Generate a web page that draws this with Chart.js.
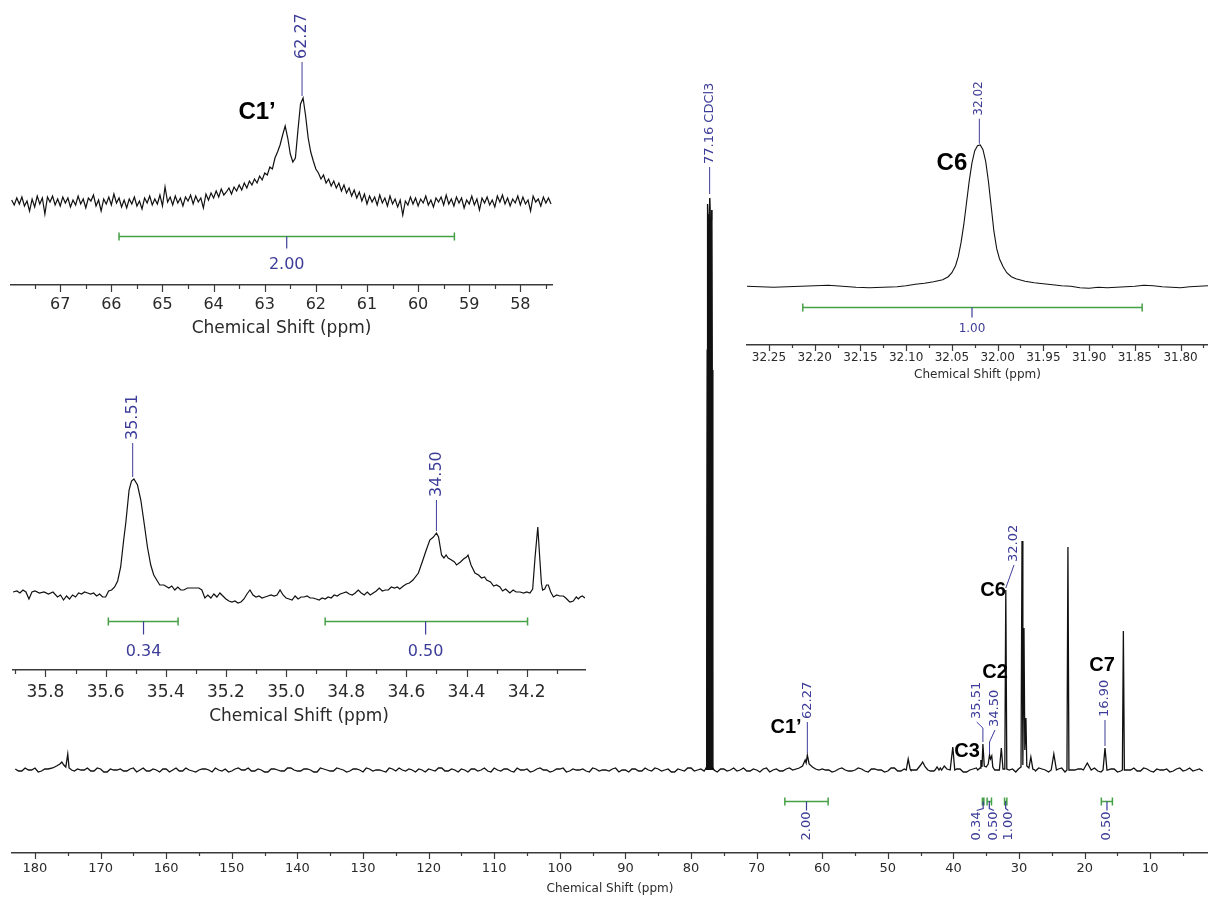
<!DOCTYPE html>
<html>
<head>
<meta charset="utf-8">
<script src="https://cdn.jsdelivr.net/npm/chart.js@4.4.1/dist/chart.umd.min.js"></script>
<style>
  html, body { margin: 0; padding: 0; background: #fff; }
  #wrap { position: relative; width: 1208px; height: 899px; overflow: hidden; }
  .box { position: absolute; }
</style>
</head>
<body>
<div id="wrap">
  <div class="box" style="left:0;top:0;width:1208px;height:899px"><canvas id="main"></canvas></div>
  <div class="box" style="left:0;top:0;width:560px;height:340px"><canvas id="zoomC1"></canvas></div>
  <div class="box" style="left:740px;top:60px;width:468px;height:330px"><canvas id="zoomC6"></canvas></div>
  <div class="box" style="left:0;top:380px;width:600px;height:350px"><canvas id="zoomC23"></canvas></div>
</div>
<script>
// ---------- data: full 13C spectrum (intensity in arbitrary units) ----------
// baseline noise, one value per ppm from 183 down to 2
const mainNoiseStart = 183;
const mainNoise = [
  1, -1, 0, 2, -1, 1, -2, 0, 1, -1,
  0, 2, -1, 1, -2, 0, 1, -1, 2, 0,
  -1, 1, -2, 1, 0, -1, 2, -1, 0, 1,
  -2, 0, 1, -1, 2, 0, -1, 1, -2, 1,
  0, -1, 2, -1, 1, 0, -2, 1, -1, 2,
  0, -1, 1, -2, 1, 0, -1, 2, -1, 0,
  1, -2, 0, 1, -1, 2, -1, 0, 1, -2,
  1, 0, -1, 2, -1, 1, -2, 0, 1, -1,
  2, 0, -1, 1, -2, 1, 0, -1, 2, -1,
  0, 1, -2, 0, 1, -1, 2, -1, 1, 0,
  -2, 1, -1, 2, 0, -1, 1, -2, 1, 0,
  -1, 2, -1, 0, 1, -2, 1, -1, 2, 0,
  -1, 1, -2, 1, 0, -1, 2, -1, 0, 1,
  -2, 1, 0, -1, 2, -1, 1, 0, -2, 1,
  -1, 2, 0, -1, 1, -2, 1, 0, -1, 2,
  -1, 0, 1, -2, 1, -1, 2, 0, -1, 1,
  -2, 0, 1, -1, 2, -1, 0, 1, -2, 1,
  0, -1, 2, -1, 1, 0, -2, 1, -1, 2,
  0, -1
];
// baseline noise at the half ppm, from 182.5 down to 2.5
const mainNoiseMid = [
  -1, 2, 0, -2, 1, -1, 0, 2, -2, 1,
  0, -1, 2, -2, 1, 0, -1, 1, -2, 2,
  -1, 0, 1, -2, 2, -1, 0, -2, 1, 0,
  2, -1, -2, 1, 0, 2, -1, 0, -2, 1,
  -1, 2, 0, -1, 1, -2, 2, 0, -1, 1,
  -2, 1, 0, 2, -1, 0, -2, 1, 2, -1,
  0, 1, -2, 0, 2, -1, 1, -2, 0, 1,
  -1, 2, -2, 0, 1, -1, 2, 0, -2, 1,
  0, -2, 1, 2, -1, 0, 1, -2, 1, 0,
  -1, 2, 0, -2, 1, -1, 0, 2, -1, 1,
  -2, 0, 2, -1, 1, -2, 0, 1, -1, 2,
  0, -1, 1, -2, 2, 0, -1, 1, 0, -2,
  1, 2, -1, 0, -2, 1, 0, -1, 2, -1,
  1, 0, -2, 2, -1, 1, 0, -2, 1, -1,
  2, -1, 0, 1, -2, 0, 2, -1, 1, 0,
  -1, 1, -2, 2, 0, -1, 1, -2, 0, 2,
  -1, 0, 1, -1, 2, -2, 0, 1, -1, 0,
  2, -1, 1, -2, 0, 1, -1, 2, 0, -1,
  1
];
// CDCl3 triplet: [ppm, intensity]
const solventPeak = [[77.8, 1], [77.62, 3], [77.52, 420], [77.48, 566], [77.40, 548], [77.32, 540], [77.24, 555], [77.16, 572], [77.08, 552], [77.0, 545], [76.92, 550], [76.84, 560], [76.78, 400], [76.7, 3], [76.5, 0]];
// sample signals: [ppm, intensity]
const mainPeaks = [
  [[178.0, 1], [177.3, 2], [176.7, 4], [176.2, 6], [175.9, 8], [175.6, 5], [175.3, 3], [175.0, 16], [174.8, 2], [174.4, 0]],
  [[64.5, 0], [63.5, 2], [63.0, 4], [62.6, 10], [62.45, 7], [62.27, 15], [62.0, 6], [61.5, 3], [61.0, 1], [60.5, 0]],
  [[47.2, 0], [46.9, 11], [46.6, 1]],
  [[45.6, 0], [45.0, 5], [44.7, 8], [44.3, 3], [43.9, 0]],
  [[42.8, 0], [42.5, 3], [42.2, 0]],
  [[41.8, 0], [41.4, 4], [41.0, 1]],
  [[40.4, 0], [40.1, 23], [39.8, 0]],
  [[36.3, 0], [35.95, 2], [35.82, 10], [35.65, 3], [35.51, 26], [35.3, 4], [35.0, 3], [34.7, 6], [34.5, 15], [34.35, 11], [34.16, 14], [34.0, 3], [33.7, 0]],
  [[33.0, 0], [32.7, 22], [32.45, 1], [32.17, 1], [32.02, 180], [31.87, 1], [31.5, 0]],
  [[30.1, 1], [29.7, 3], [29.55, 229], [29.42, 5], [29.25, 142], [29.12, 20], [28.95, 52], [28.82, 4], [28.5, 2], [28.2, 13], [27.9, 1], [27.6, 0]],
  [[25.1, 0], [24.7, 16], [24.3, 0]],
  [[22.7, 0], [22.55, 223], [22.4, 0]],
  [[20.2, 0], [19.6, 7], [19.0, 0]],
  [[17.2, 0], [16.9, 22], [16.6, 0]],
  [[14.25, 0], [14.1, 139], [13.95, 0]]
];
const mainPeakText = ["77.16 CDCl3", "62.27", "35.51", "34.50", "32.02", "16.90"];
const mainPeakShift = [77.16, 62.27, 35.51, 34.50, 32.02, 16.90];
const mainAtomText = ["C1’", "C3", "C2", "C6", "C7"];
const mainIntText = ["2.00", "0.34", "0.50", "1.00", "0.50"];
const mainIntFrom = [65.7, 35.59, 34.87, 32.21, 17.46];
const mainIntTo = [59.1, 35.36, 34.20, 31.86, 15.77];
const mainIntCenter = [62.4, 35.47, 34.53, 32.04, 16.6];

// ---------- data: C1' expansion, 0.05 ppm steps from 67.95 ----------
const c1Start = 67.95, c1Step = 0.05;
const c1Int = [
  2, -3, 4, -2, 5, -4, 1, -9, 3, -5,
  6, -2, 4, -12, 5, 0, 6, -3, 3, -4,
  5, -1, 4, -5, 2, -3, 6, -2, 3, -6,
  4, 1, 7, -4, 2, -9, 3, -2, 5, -3,
  8, -1, 4, -5, 2, -6, 3, -2, 5, -4,
  1, -7, 4, -1, 6, -3, 3, -2, 7, -4,
  15, 0, 5, -3, 6, -1, 4, -4, 5, 1,
  7, -2, 6, 0, 4, -6, 8, 2, 9, 4,
  11, 5, 13, 7, 10, 14, 8, 15, 11, 17,
  12, 19, 14, 21, 17, 23, 19, 26, 22, 29,
  27, 35, 33, 44, 50, 57, 67, 76, 64, 48,
  40, 44, 72, 98, 104, 86, 64, 50, 41, 33,
  29, 23, 27, 19, 23, 16, 21, 14, 19, 11,
  17, 9, 14, 6, 12, 4, 10, 1, 8, -2,
  6, 0, 5, -3, 7, -1, 4, -4, 6, -2,
  3, -5, 2, -13, 1, -3, 5, -2, 4, -4,
  3, -1, 6, -3, 2, -5, 4, 0, 5, -3,
  7, -2, 3, -4, 5, -1, 4, -6, 2, -2,
  6, -3, 3, -8, 4, -1, 5, -3, 2, -5,
  6, 0, 7, -2, 4, -4, 3, -1, 6, -3,
  5, -2, 2, -9, 6, 0, 3, -4, 5, -1,
  4, -2
];
const c1PeakText = ["62.27"], c1PeakShift = [62.27];
const c1IntText = ["2.00"], c1IntFrom = [65.85], c1IntTo = [59.29], c1IntCenter = [62.57];

// ---------- data: C6 expansion ----------
const c6Shift = [
  32.274, 32.26, 32.245, 32.23, 32.215, 32.20, 32.185, 32.17, 32.155, 32.14, 32.125, 32.11, 32.10,
  32.09, 32.08, 32.07, 32.06, 32.054, 32.05, 32.046, 32.043, 32.04, 32.037, 32.034, 32.031, 32.028,
  32.025, 32.022, 32.019, 32.016, 32.013, 32.01, 32.007, 32.004, 32.001, 31.998, 31.994, 31.99,
  31.985, 31.98, 31.97, 31.96, 31.95, 31.94, 31.93, 31.92, 31.91, 31.90, 31.89, 31.88, 31.87, 31.86,
  31.85, 31.84, 31.83, 31.82, 31.81, 31.80, 31.79, 31.78, 31.77
];
const c6Int = [
  0.5, 0, -0.5, 0, 0.5, 1, 1.5, 0.5, -0.5, -1, -0.5, 0, 1,
  2.5, 3.5, 5, 7, 10, 14, 21, 30, 44, 62, 84, 106, 124,
  136, 141, 141.7, 137, 125, 105, 80, 55, 38, 28, 20, 14,
  10, 8, 5.5, 4, 3, 2, 1, 0.5, -1, -1.5, -0.5, -1, -0.5, 0,
  0.5, 1.5, 1, 0, -0.5, -1, 0, 0.5, 1
];
const c6PeakText = ["32.02"], c6PeakShift = [32.02];
const c6IntText = ["1.00"], c6IntFrom = [32.213], c6IntTo = [31.842], c6IntCenter = [32.028];

// ---------- data: C3 / C2 expansion ----------
const c23Shift = [
  35.908, 35.895, 35.885, 35.875, 35.865, 35.855, 35.845, 35.835, 35.82, 35.805, 35.79, 35.775, 35.76,
  35.75, 35.74, 35.73, 35.72, 35.71, 35.70, 35.69, 35.68, 35.67, 35.66, 35.65, 35.64, 35.63, 35.62,
  35.61, 35.60, 35.59, 35.58, 35.57, 35.56, 35.55, 35.54, 35.533, 35.522, 35.514, 35.506, 35.494,
  35.483, 35.472, 35.461, 35.45, 35.44, 35.428, 35.42, 35.406, 35.39, 35.38, 35.37, 35.36, 35.35,
  35.34, 35.328, 35.31, 35.30, 35.29, 35.28, 35.27, 35.26, 35.25, 35.24, 35.23, 35.22, 35.21, 35.20,
  35.19, 35.18, 35.17, 35.16, 35.15, 35.14, 35.13, 35.12, 35.11, 35.10, 35.09, 35.08, 35.07, 35.06,
  35.05, 35.04, 35.03, 35.02, 35.01, 35.00, 34.99, 34.98, 34.97, 34.96, 34.95, 34.94, 34.93, 34.92,
  34.91, 34.90, 34.89, 34.88, 34.87, 34.86, 34.85, 34.84, 34.83, 34.82, 34.81, 34.80, 34.79, 34.78,
  34.77, 34.76, 34.75, 34.74, 34.73, 34.72, 34.71, 34.70, 34.69, 34.68, 34.67, 34.66, 34.65, 34.64,
  34.63, 34.622, 34.61, 34.60, 34.59, 34.578, 34.56, 34.545, 34.535, 34.522, 34.51, 34.50, 34.493,
  34.483, 34.475, 34.468, 34.461, 34.45, 34.44, 34.433, 34.42, 34.41, 34.40, 34.395, 34.385, 34.372,
  34.36, 34.35, 34.34, 34.333, 34.32, 34.31, 34.30, 34.289, 34.28, 34.27, 34.256, 34.245, 34.235,
  34.222, 34.21, 34.20, 34.189, 34.18, 34.172, 34.163, 34.156, 34.151, 34.147, 34.14, 34.134, 34.128,
  34.12, 34.111, 34.10, 34.09, 34.078, 34.07, 34.06, 34.056, 34.045, 34.035, 34.028, 34.022, 34.015,
  34.006
];
const c23Int = [
  3, 4, 2, 5, 3, -4, 3, 4, 2, 3, 1, 3, -2,
  0, -5, -1, -4, 0, -2, 2, 1, 3, 2, 1, 2, -1, 1,
  -2, -2, 4, 5, 8, 14, 28, 55, 72, 105, 114, 116, 110,
  95, 72, 48, 30, 20, 14, 10, 10, 7, 9, 5, 8, 5,
  5, 7, 7, 7, 7, 5, -3, 0, -3, 1, -2, 2, -1, -4,
  -6, -7, -6, -8, -7, -4, 1, 5, 0, -2, -1, -3, -2, -1,
  0, -1, 0, 5, 0, -3, -4, -5, -1, -4, -2, -2, -1, -3,
  -3, -4, -5, -3, -4, -2, -3, 0, -1, 1, 2, 3, 1, 0,
  2, 5, 2, 0, 3, 0, 2, 4, 7, 4, 5, 5, 8, 7,
  8, 6, 9, 11, 12, 15, 22, 35, 44, 55, 58, 62, 58,
  40, 37, 40, 37, 35, 33, 30, 33, 36, 38, 40, 30, 22,
  20, 17, 18, 15, 13, 9, 10, 8, 4, 6, 2, 5, 3,
  3, 2, 3, 2, 6, 38, 68, 35, 12, 5, 6, 10, 10,
  3, -2, 0, -1, -1, -3, -6, -7, -6, -2, -4, -2, -1,
  -3
];
const c23PeakText = ["35.51", "34.50"], c23PeakShift = [35.51, 34.50];
const c23IntText = ["0.34", "0.50"], c23IntFrom = [35.591, 34.87], c23IntTo = [35.359, 34.197], c23IntCenter = [35.474, 34.536];

// ---------- drawing ----------
const BLUE = '#3d3d99', GREEN = '#46a046', INK = '#111', AXIS = '#3a3a3a';

// peak labels, atom labels, integrals and axis tick marks
const nmrMarks = {
  id: 'nmrMarks',
  afterDraw(chart, args, o) {
    const ctx = chart.ctx, xs = chart.scales.x, ys = chart.scales.y;
    const X = v => xs.getPixelForValue(v), Y = v => ys.getPixelForValue(v);
    ctx.save();

    ctx.strokeStyle = AXIS;
    ctx.lineWidth = 1.2;
    xs.ticks.forEach(t => {
      const px = Math.round(X(t.value)) + 0.5;
      const len = t.label !== '' ? o.majorLen : o.minorLen;
      ctx.beginPath();
      ctx.moveTo(px, xs.top);
      ctx.lineTo(px, xs.top + len);
      ctx.stroke();
    });

    (o.peaks || []).forEach(p => {
      const x0 = X(p.shift), xt = X(p.tx !== undefined ? p.tx : p.shift);
      ctx.strokeStyle = BLUE;
      ctx.lineWidth = 1;
      ctx.beginPath();
      ctx.moveTo(x0, Y(p.from));
      if (p.bend !== undefined) ctx.lineTo(x0, Y(p.bend));
      ctx.lineTo(xt, Y(p.to));
      ctx.stroke();
      ctx.save();
      ctx.translate(xt, Y(p.to) - 3);
      ctx.rotate(-Math.PI / 2);
      ctx.font = o.peakFont;
      ctx.fillStyle = BLUE;
      ctx.textAlign = 'left';
      ctx.textBaseline = 'middle';
      ctx.fillText(p.text, 0, 0);
      ctx.restore();
    });

    (o.atoms || []).forEach(a => {
      ctx.font = o.atomFont;
      ctx.fillStyle = '#000';
      ctx.textAlign = 'center';
      ctx.textBaseline = 'middle';
      ctx.fillText(a.text, X(a.shift), Y(a.h));
    });

    (o.integrals || []).forEach(g => {
      const yb = Math.round(Y(o.intY)) + 0.5;
      const a = X(g.from), b = X(g.to), c = X(g.center);
      ctx.strokeStyle = GREEN;
      ctx.lineWidth = 1.5;
      ctx.beginPath();
      ctx.moveTo(a, yb); ctx.lineTo(b, yb);
      ctx.moveTo(a, yb - 4); ctx.lineTo(a, yb + 4);
      ctx.moveTo(b, yb - 4); ctx.lineTo(b, yb + 4);
      ctx.stroke();
      ctx.strokeStyle = BLUE;
      ctx.lineWidth = 1.2;
      ctx.beginPath();
      ctx.moveTo(c, yb);
      ctx.lineTo(c, yb + o.intTick);
      const lx = X(g.lx !== undefined ? g.lx : g.center);
      if (o.intRotate) ctx.lineTo(lx, yb + o.intTick + 2);
      ctx.stroke();
      ctx.fillStyle = BLUE;
      ctx.font = o.intFont;
      if (o.intRotate) {
        ctx.save();
        ctx.translate(lx, yb + o.intTick + 3);
        ctx.rotate(-Math.PI / 2);
        ctx.textAlign = 'right';
        ctx.textBaseline = 'middle';
        ctx.fillText(g.text, 0, 0);
        ctx.restore();
      } else {
        ctx.textAlign = 'center';
        ctx.textBaseline = 'middle';
        ctx.fillText(g.text, c, yb + o.intLabelDy);
      }
    });
    ctx.restore();
  }
};

function shiftAxis(a) {
  return {
    type: 'linear',
    reverse: true,
    min: a.min,
    max: a.max,
    afterFit: s => { s.height = a.height; s.paddingLeft = 0; s.paddingRight = 0; },
    grid: { display: false, drawTicks: false },
    border: { display: true, color: AXIS, width: 1.5 },
    ticks: {
      stepSize: a.minor,
      includeBounds: false,
      autoSkip: false,
      maxRotation: 0,
      minRotation: 0,
      padding: a.pad,
      color: '#2a2a2a',
      font: { family: 'DejaVu Sans', size: a.size },
      callback: v => Math.abs(v / a.major - Math.round(v / a.major)) < 1e-6 ? v.toFixed(a.dec) : ''
    },
    title: {
      display: true,
      text: 'Chemical Shift (ppm)',
      color: '#2a2a2a',
      font: { family: 'DejaVu Sans', size: a.titleSize },
      padding: { top: 0, bottom: a.titlePad }
    }
  };
}

function makeChart(id, points, o) {
  const datasets = [{ data: points, borderColor: INK, borderWidth: o.lw, pointRadius: 0, tension: 0, fill: false }];
  if (o.solid) {
    // the solvent lines are so close they print as one solid black bar
    datasets.push({ data: o.solid, borderColor: INK, borderWidth: 1, pointRadius: 0, tension: 0, fill: 'origin', backgroundColor: INK });
  }
  return new Chart(document.getElementById(id), {
    type: 'line',
    data: { datasets },
    options: {
      responsive: true,
      maintainAspectRatio: false,
      animation: false,
      events: [],
      layout: { padding: o.pad },
      plugins: { legend: { display: false }, tooltip: { enabled: false }, nmrMarks: o.marks },
      scales: { x: shiftAxis(o.axis), y: { display: false, min: o.ymin, max: o.ymax } }
    },
    plugins: [nmrMarks]
  });
}

// full spectrum points: baseline noise outside the signals, plus the signals
const allSignals = mainPeaks.concat([solventPeak]);
const spans = allSignals.map(g => [Math.min(...g.map(p => p[0])), Math.max(...g.map(p => p[0]))]);
const inSignal = s => spans.some(([lo, hi]) => s >= lo && s <= hi);
const mainPoints = [];
mainNoise.forEach((v, i) => {
  const s = mainNoiseStart - i;
  if (!inSignal(s)) mainPoints.push({ x: s, y: v });
});
mainNoiseMid.forEach((v, i) => {
  const s = mainNoiseStart - 0.5 - i;
  if (!inSignal(s)) mainPoints.push({ x: s, y: v });
});
allSignals.forEach(g => g.forEach(([s, v]) => mainPoints.push({ x: s, y: v })));
mainPoints.sort((a, b) => b.x - a.x);

const mainPeakLayout = [
  { from: 576, to: 603 },
  { from: 17, to: 48 },
  { from: 28, bend: 42, tx: 36.46, to: 48 },
  { from: 16, bend: 28, tx: 33.67, to: 40 },
  { from: 182, tx: 30.77, to: 205 },
  { from: 24, to: 50 }
];
const mainAtomLayout = [[65.52, 43], [37.93, 19], [33.67, 98], [33.97, 180], [17.36, 105]];
const mainIntLabelAt = [62.4, 36.46, 33.82, 31.64, 16.6];

makeChart('main', mainPoints, {
  lw: 1.3,
  solid: solventPeak.map(([s, v]) => ({ x: s, y: v })),
  pad: { left: 12, right: 0, top: 0, bottom: 0 },
  ymin: -83, ymax: 770,
  axis: { min: 1.2, max: 183.5, major: 10, minor: 5, dec: 0, size: 13, pad: 8, titleSize: 12, titlePad: 3, height: 46 },
  marks: {
    majorLen: 6, minorLen: 3,
    peakFont: '13px "DejaVu Sans"',
    peaks: mainPeakText.map((t, i) => Object.assign({ text: t, shift: mainPeakShift[i] }, mainPeakLayout[i])),
    atomFont: 'bold 20px "Liberation Sans", Arial, sans-serif',
    atoms: mainAtomText.map((t, i) => ({ text: t, shift: mainAtomLayout[i][0], h: mainAtomLayout[i][1] })),
    intY: -31, intTick: 7, intRotate: true, intFont: '13px "DejaVu Sans"',
    integrals: mainIntText.map((t, i) => ({ text: t, from: mainIntFrom[i], to: mainIntTo[i], center: mainIntCenter[i], lx: mainIntLabelAt[i] }))
  }
});

makeChart('zoomC1', c1Int.map((v, i) => ({ x: c1Start - i * c1Step, y: v })), {
  lw: 1.2,
  pad: { left: 11, right: 8, top: 0, bottom: 0 },
  ymin: -83, ymax: 202,
  axis: { min: 57.381, max: 67.963, major: 1, minor: 0.5, dec: 0, size: 16, pad: 10, titleSize: 17, titlePad: 1, height: 55 },
  marks: {
    majorLen: 7, minorLen: 4,
    peakFont: '16px "DejaVu Sans"',
    peaks: c1PeakText.map((t, i) => ({ text: t, shift: c1PeakShift[i], from: 106, to: 140 })),
    atomFont: 'bold 24px "Liberation Sans", Arial, sans-serif',
    atoms: [{ text: 'C1’', shift: 63.15, h: 90 }],
    intY: -34, intTick: 12, intLabelDy: 28, intFont: '16px "DejaVu Sans"',
    integrals: c1IntText.map((t, i) => ({ text: t, from: c1IntFrom[i], to: c1IntTo[i], center: c1IntCenter[i] }))
  }
});

makeChart('zoomC6', c6Shift.map((s, i) => ({ x: s, y: c6Int[i] })), {
  lw: 1.1,
  pad: { left: 7, right: 0, top: 0, bottom: 0 },
  ymin: -58.3, ymax: 226.7,
  axis: { min: 31.77, max: 32.274, major: 0.05, minor: 0.025, dec: 2, size: 12, pad: 6, titleSize: 12, titlePad: 8, height: 45 },
  marks: {
    majorLen: 6, minorLen: 3,
    peakFont: '12px "DejaVu Sans"',
    peaks: c6PeakText.map((t, i) => ({ text: t, shift: c6PeakShift[i], from: 143, to: 168 })),
    atomFont: 'bold 24px "Liberation Sans", Arial, sans-serif',
    atoms: [{ text: 'C6', shift: 32.05, h: 123 }],
    intY: -20.3, intTick: 10, intLabelDy: 21, intFont: '12px "DejaVu Sans"',
    integrals: c6IntText.map((t, i) => ({ text: t, from: c6IntFrom[i], to: c6IntTo[i], center: c6IntCenter[i] }))
  }
});

makeChart('zoomC23', c23Shift.map((s, i) => ({ x: s, y: c23Int[i] })), {
  lw: 1.2,
  pad: { left: 13, right: 15, top: 0, bottom: 0 },
  ymin: -75, ymax: 215,
  axis: { min: 34.006, max: 35.908, major: 0.2, minor: 0.1, dec: 1, size: 17, pad: 12, titleSize: 17, titlePad: 3, height: 60 },
  marks: {
    majorLen: 7, minorLen: 4,
    peakFont: '16px "DejaVu Sans"',
    peaks: [
      { text: c23PeakText[0], shift: c23PeakShift[0], from: 118, to: 152 },
      { text: c23PeakText[1], shift: c23PeakShift[1], from: 64, to: 95 }
    ],
    intY: -26, intTick: 13, intLabelDy: 30, intFont: '16px "DejaVu Sans"',
    integrals: c23IntText.map((t, i) => ({ text: t, from: c23IntFrom[i], to: c23IntTo[i], center: c23IntCenter[i] }))
  }
});
</script>
</body>
</html>
